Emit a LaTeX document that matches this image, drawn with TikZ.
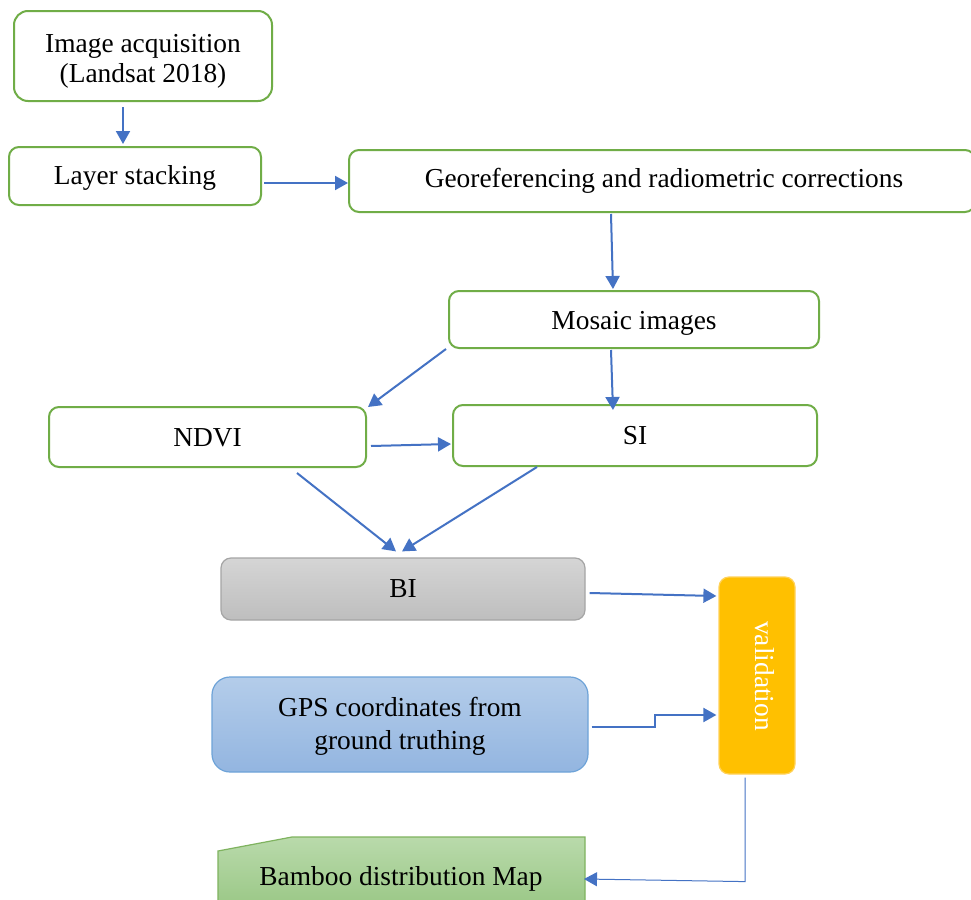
\documentclass[tikz,border=0pt]{standalone}
\usepackage{fontspec}
\setmainfont{Liberation Serif}
\usetikzlibrary{arrows.meta,calc}
\definecolor{boxgreen}{HTML}{70AD47}
\definecolor{arrblue}{HTML}{4472C4}
\definecolor{valfill}{HTML}{FFC000}
\tikzset{
  gbox/.style={draw=boxgreen, line width=1pt, rounded corners=5pt, fill=white, align=center, inner sep=0pt},
  arr/.style={draw=arrblue, line width=1pt, -{Triangle[length=6.5pt,width=7pt]}},
  thinarr/.style={draw=arrblue, line width=0.5pt, -{Triangle[length=6.5pt,width=7pt]}},
  lbl/.style={font=\fontsize{13.7}{15.5}\selectfont, align=center}
}
\newcommand{\dnby}[2]{\raisebox{-#1}[\height][\depth]{#2}}
\newcommand{\twolines}[4]{\raisebox{-#1}[\height][\depth]{\fontsize{13.7}{#2}\selectfont\begin{tabular}{@{}c@{}}#3\\#4\end{tabular}}}
\begin{document}
\begin{tikzpicture}[x=0.5pt,y=-0.5pt]
\clip (0,0) rectangle (971,900);
\fill[white] (0,0) rectangle (971,900);

\node[gbox, lbl, rounded corners=7pt, minimum width=129pt, minimum height=45pt] (img) at (143,56) {\twolines{2.5pt}{15pt}{Image acquisition}{(Landsat 2018)}};
\node[gbox, lbl, minimum width=126pt, minimum height=29pt] (layer) at (135,176) {\dnby{1.2pt}{Layer stacking}};
\node[gbox, lbl, minimum width=313pt, minimum height=31pt] (geo) at (662,181) {\hspace*{2pt}Georeferencing and radiometric corrections};
\node[gbox, lbl, minimum width=185pt, minimum height=28.5pt] (mosaic) at (634,319.5) {\dnby{2pt}{Mosaic images}};
\node[gbox, lbl, minimum width=158.5pt, minimum height=30pt] (ndvi) at (207.5,437) {\dnby{0.5pt}{NDVI}};
\node[gbox, lbl, minimum width=182pt, minimum height=30.5pt] (si) at (635,435.5) {SI};
\node[lbl, draw={rgb,255:red,165;green,165;blue,165}, line width=0.6pt, rounded corners=5pt,
      top color={rgb,255:red,213;green,213;blue,213}, bottom color={rgb,255:red,190;green,190;blue,190},
      minimum width=182pt, minimum height=31pt] (bi) at (403,589) {BI};
\node[draw={rgb,255:red,255;green,210;blue,90}, line width=0.6pt, fill=valfill, rounded corners=5pt,
      minimum width=38pt, minimum height=98.5pt] (val) at (757,675.5) {};
\node[lbl, text=white, rotate=-90] (vallbl) at (765,676) {validation};
\node[lbl, draw={rgb,255:red,110;green,163;blue,216}, line width=0.6pt, rounded corners=9pt,
      top color={rgb,255:red,180;green,205;blue,234}, bottom color={rgb,255:red,147;green,181;blue,224},
      minimum width=188pt, minimum height=47.5pt] (gps) at (400,724.5) {\twolines{0.8pt}{16.5pt}{GPS coordinates from}{ground truthing}};

% Bamboo distribution map shape
\path[draw={rgb,255:red,127;green,179;blue,95}, line width=0.6pt,
      top color={rgb,255:red,185;green,218;blue,171}, bottom color={rgb,255:red,155;green,200;blue,135}]
  (218,851) -- (292,837) -- (585,837) -- (585,905) -- (218,905) -- cycle;
\node[lbl] (bamboo) at (401,879) {Bamboo distribution Map};
\coordinate (bmapE) at (584,879);

% connectors
\draw[arr] ([xshift=-10pt,yshift=-2.5pt]img.south) -- ([xshift=-6pt,yshift=1pt]layer.north);
\draw[arr] ([xshift=1pt,yshift=-3.5pt]layer.east) -- ([yshift=-1pt]geo.west);
\draw[arr] ([xshift=-25.5pt,yshift=-0.5pt]geo.south) -- ([xshift=-10.5pt,yshift=0.5pt]mosaic.north);
\draw[arr] ([xshift=-1pt]mosaic.south west) -- ([xshift=0.5pt,yshift=-0.5pt]ndvi.north east);
\draw[arr] ([xshift=-11.5pt,yshift=-0.5pt]mosaic.south) -- ([xshift=-11pt,yshift=-3pt]si.north);
\draw[arr] ([xshift=2pt,yshift=-4.5pt]ndvi.east) -- ([xshift=-0.5pt,yshift=-4.25pt]si.west);
\draw[arr] ([xshift=44.75pt,yshift=-2.5pt]ndvi.south) -- ([xshift=-3.5pt,yshift=3pt]bi.north);
\draw[arr] ([xshift=-49pt]si.south) -- ([xshift=-0.5pt,yshift=3pt]bi.north);
\draw[arr] ([xshift=2pt,yshift=-2pt]bi.east) -- ([xshift=-1pt,yshift=39.75pt]val.west);
\draw[arr] ([xshift=1.5pt,yshift=-1.25pt]gps.east) -- ++(31.5pt,0) |- ([xshift=-1pt,yshift=-19.75pt]val.west);
\draw[thinarr] ([xshift=-6pt,yshift=-1.5pt]val.south) -- ++(0,-52pt) -- (bmapE);
\end{tikzpicture}
\end{document}
